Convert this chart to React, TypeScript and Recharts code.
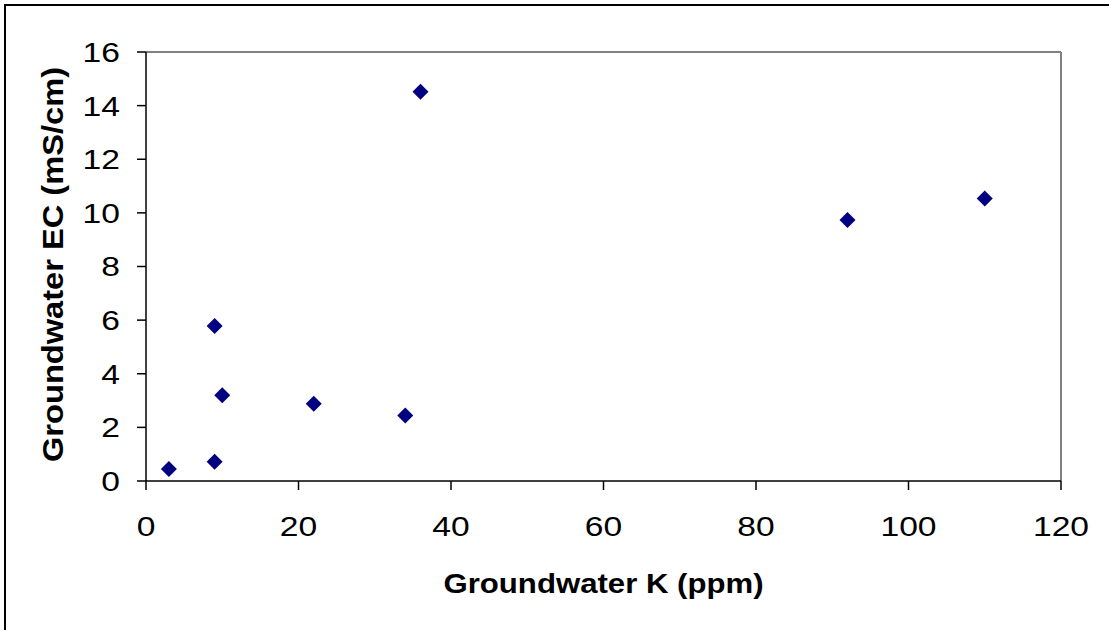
import React from 'react';
import {
  ReferenceLine,
  Scatter,
  ScatterChart,
  XAxis,
  YAxis,
} from 'recharts';

// groundwater samples
const kPpm = [3, 9, 10, 22, 34, 9, 36, 92, 110];
const ecMsCm = [0.45, 0.72, 3.2, 2.88, 2.44, 5.78, 14.52, 9.73, 10.54];

const xTicks = [0, 20, 40, 60, 80, 100, 120];
const yTicks = [0, 2, 4, 6, 8, 10, 12, 14, 16];

const xTitle = 'Groundwater K (ppm)';
const yTitle = 'Groundwater EC (mS/cm)';

const points = kPpm.map((k, i) => ({ k, ec: ecMsCm[i] }));

const FONT = '"Liberation Sans", Arial, sans-serif';
const STRETCH = 1.2; // the source glyphs are wider than Arial

const Diamond = (props: any) => {
  const { cx, cy } = props;
  const r = 8;
  return (
    <polygon
      points={`${cx},${cy - r} ${cx + r},${cy} ${cx},${cy + r} ${cx - r},${cy}`}
      fill="#000080"
    />
  );
};

const XTick = (props: any) => {
  const { x, y, payload } = props;
  return (
    <text
      x={x}
      y={y}
      dy="0.71em"
      textAnchor="middle"
      fontFamily={FONT}
      fontSize={28}
      fill="#000"
      transform={`translate(${x},0) scale(${STRETCH},1) translate(${-x},0)`}
    >
      {payload.value}
    </text>
  );
};

const YTick = (props: any) => {
  const { x, y, payload } = props;
  return (
    <text
      x={x}
      y={y}
      dy="0.355em"
      textAnchor="end"
      fontFamily={FONT}
      fontSize={28}
      fill="#000"
      transform={`translate(${x},0) scale(${STRETCH},1) translate(${-x},0)`}
    >
      {payload.value}
    </text>
  );
};

const XTitle = (props: any) => {
  const vb = props.viewBox || {};
  return (
    <text
      x={vb.x + vb.width / 2}
      y={vb.y + 112}
      textAnchor="middle"
      fontFamily={FONT}
      fontWeight="bold"
      fontSize={28}
      textLength={320}
      lengthAdjust="spacingAndGlyphs"
      fill="#000"
    >
      {xTitle}
    </text>
  );
};

const YTitle = (props: any) => {
  const vb = props.viewBox || {};
  const x = vb.x + 63;
  const y = vb.y + vb.height / 2 - 2;
  return (
    <text
      x={x}
      y={y}
      transform={`rotate(-90, ${x}, ${y})`}
      textAnchor="middle"
      fontFamily={FONT}
      fontWeight="bold"
      fontSize={30}
      textLength={395}
      lengthAdjust="spacingAndGlyphs"
      fill="#000"
    >
      {yTitle}
    </text>
  );
};

const App = () => {
  return (
    <div
      style={{
        position: 'absolute',
        left: 0,
        top: 0,
        width: 1109,
        height: 630,
        overflow: 'hidden',
        background: '#fff',
      }}
    >
      <div
        style={{
          position: 'absolute',
          left: 4,
          top: 4,
          width: 1110,
          height: 630,
          borderTop: '2px solid #000',
          borderLeft: '2px solid #000',
        }}
      />
      <div style={{ position: 'absolute', left: 0, top: 0 }}>
        <ScatterChart
          width={1109}
          height={630}
          margin={{ top: 52, right: 48, bottom: 0, left: 0 }}
        >
          <XAxis
            type="number"
            dataKey="k"
            domain={[0, 120]}
            ticks={xTicks}
            interval={0}
            height={149}
            tickSize={9}
            tickMargin={26}
            stroke="#000"
            strokeWidth={1.5}
            tick={<XTick />}
            label={<XTitle />}
          />
          <YAxis
            type="number"
            dataKey="ec"
            domain={[0, 16]}
            ticks={yTicks}
            interval={0}
            width={146}
            tickSize={9}
            tickMargin={17}
            stroke="#000"
            strokeWidth={1.5}
            tick={<YTick />}
            label={<YTitle />}
          />
          <ReferenceLine y={16} stroke="#808080" strokeWidth={2} />
          <ReferenceLine x={120} stroke="#808080" strokeWidth={2} />
          <Scatter
            data={points}
            shape={<Diamond />}
            isAnimationActive={false}
          />
        </ScatterChart>
      </div>
    </div>
  );
};

export default App;
